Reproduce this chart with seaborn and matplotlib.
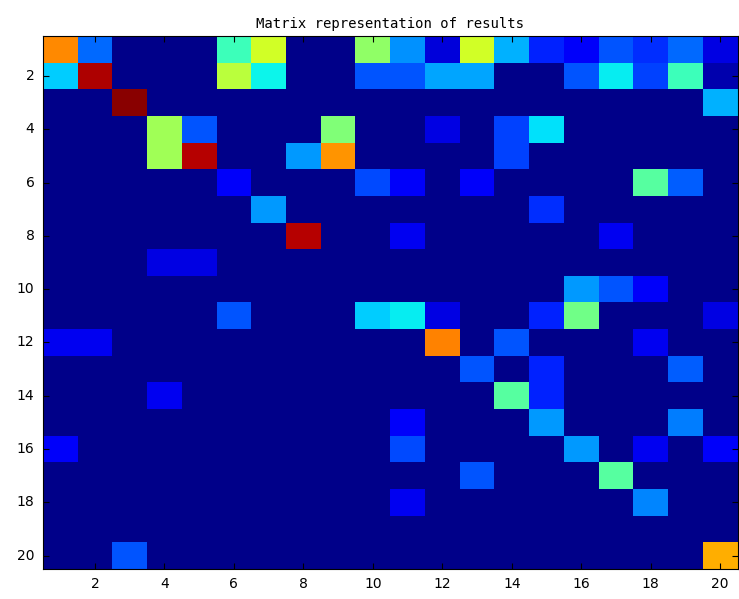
import numpy as np
import pandas as pd
import matplotlib
matplotlib.use("Agg")
import matplotlib.pyplot as plt
import seaborn as sns

# matrix values (rows 1..20, columns 1..20)
row1 = [0.76, 0.22, 0, 0, 0, 0.42, 0.60, 0, 0, 0.52, 0.26, 0.07, 0.60, 0.29, 0.15, 0.10, 0.20, 0.16, 0.22, 0.08]
row2 = [0.32, 0.96, 0, 0, 0, 0.57, 0.36, 0, 0, 0.20, 0.20, 0.28, 0.28, 0, 0, 0.20, 0.35, 0.18, 0.42, 0.03]
row3 = [0, 0, 0.99, 0, 0, 0, 0, 0, 0, 0, 0, 0, 0, 0, 0, 0, 0, 0, 0, 0.29]
row4 = [0, 0, 0, 0.54, 0.20, 0, 0, 0, 0.50, 0, 0, 0.08, 0, 0.18, 0.34, 0, 0, 0, 0, 0]
row5 = [0, 0, 0, 0.54, 0.95, 0, 0, 0.27, 0.75, 0, 0, 0, 0, 0.18, 0, 0, 0, 0, 0, 0]
row6 = [0, 0, 0, 0, 0, 0.10, 0, 0, 0, 0.19, 0.10, 0, 0.10, 0, 0, 0, 0, 0.45, 0.21, 0]
row7 = [0, 0, 0, 0, 0, 0, 0.27, 0, 0, 0, 0, 0, 0, 0, 0.16, 0, 0, 0, 0, 0]
row8 = [0, 0, 0, 0, 0, 0, 0, 0.95, 0, 0, 0.09, 0, 0, 0, 0, 0, 0.09, 0, 0, 0]
row9 = [0, 0, 0, 0.08, 0.08, 0, 0, 0, 0, 0, 0, 0, 0, 0, 0, 0, 0, 0, 0, 0]
row10 = [0, 0, 0, 0, 0, 0, 0, 0, 0, 0, 0, 0, 0, 0, 0, 0.27, 0.20, 0.10, 0, 0]
row11 = [0, 0, 0, 0, 0, 0.20, 0, 0, 0, 0.32, 0.35, 0.08, 0, 0, 0.15, 0.48, 0, 0, 0, 0.08]
row12 = [0.09, 0.09, 0, 0, 0, 0, 0, 0, 0, 0, 0, 0.77, 0, 0.20, 0, 0, 0, 0.09, 0, 0]
row13 = [0, 0, 0, 0, 0, 0, 0, 0, 0, 0, 0, 0, 0.20, 0, 0.15, 0, 0, 0, 0.21, 0]
row14 = [0, 0, 0, 0.09, 0, 0, 0, 0, 0, 0, 0, 0, 0, 0.45, 0.15, 0, 0, 0, 0, 0]
row15 = [0, 0, 0, 0, 0, 0, 0, 0, 0, 0, 0.10, 0, 0, 0, 0.27, 0, 0, 0, 0.24, 0]
row16 = [0.10, 0, 0, 0, 0, 0, 0, 0, 0, 0, 0.19, 0, 0, 0, 0, 0.27, 0, 0.09, 0, 0.10]
row17 = [0, 0, 0, 0, 0, 0, 0, 0, 0, 0, 0, 0, 0.20, 0, 0, 0, 0.45, 0, 0, 0]
row18 = [0, 0, 0, 0, 0, 0, 0, 0, 0, 0, 0.09, 0, 0, 0, 0, 0, 0, 0.25, 0, 0]
row19 = [0] * 20
row20 = [0, 0, 0.20, 0, 0, 0, 0, 0, 0, 0, 0, 0, 0, 0, 0, 0, 0, 0, 0, 0.72]

results = [row1, row2, row3, row4, row5, row6, row7, row8, row9, row10,
           row11, row12, row13, row14, row15, row16, row17, row18, row19, row20]
idx = list(range(1, 21))
tick_vals = [2, 4, 6, 8, 10, 12, 14, 16, 18, 20]

df = pd.DataFrame(results, index=idx, columns=idx)

fig = plt.figure(figsize=(7.39, 5.99), dpi=100)
ax = fig.add_axes([0.058, 0.050, 0.940, 0.890])

sns.heatmap(df, cmap="jet", vmin=-0.01, vmax=1, cbar=False, ax=ax)

# MATLAB-like axes
pos = [idx.index(t) + 0.5 for t in tick_vals]
ax.set_xticks(pos)
ax.set_xticklabels(tick_vals, rotation=0, fontsize=10)
ax.set_yticks(pos)
ax.set_yticklabels(tick_vals, rotation=0, fontsize=10)
ax.tick_params(direction="in", length=4, color="black", top=True, right=True, pad=6)
ax.set_xlabel("")
ax.set_ylabel("")
for s in ax.spines.values():
    s.set_visible(True)
    s.set_color("black")
    s.set_linewidth(0.8)

ax.set_title("Matrix representation of results", fontsize=10, family="DejaVu Sans Mono", pad=6)

fig.savefig("out.png", dpi=100)
